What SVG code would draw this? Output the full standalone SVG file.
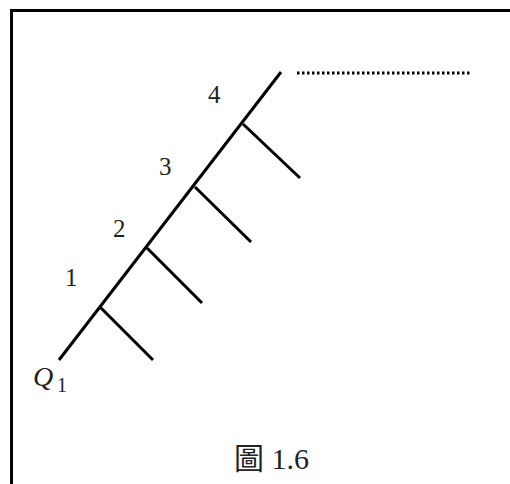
<svg xmlns="http://www.w3.org/2000/svg" width="510" height="484" viewBox="0 0 510 484">
<style>
.ln{stroke:#000;stroke-width:3;fill:none;stroke-linecap:butt}
.t{font-family:"Liberation Serif","Noto Sans CJK TC",serif;fill:#222}
</style>
<rect x="0" y="0" width="510" height="484" fill="#fff"/>
<g id="frame"><path d="M11.5,520 V10.5 H520" class="ln"/></g>
<g id="connectors">
<line class="ln" x1="59" y1="360" x2="281" y2="72"/>
<line class="ln" x1="100" y1="307" x2="153" y2="360"/>
<line class="ln" x1="147" y1="248" x2="202" y2="303"/>
<line class="ln" x1="195" y1="187" x2="251" y2="242"/>
<line class="ln" x1="243" y1="124" x2="300" y2="178"/>
<line x1="297" y1="73" x2="472" y2="73" stroke="#000" stroke-width="3" stroke-dasharray="2.5 2.5"/>
</g>
<g id="labels">
<text class="t" x="65" y="286" font-size="25">1</text>
<text class="t" x="113" y="237" font-size="25">2</text>
<text class="t" x="159" y="175" font-size="25">3</text>
<text class="t" x="208" y="103" font-size="25">4</text>
<text class="t" x="33" y="386" font-size="28" font-style="italic">Q</text>
<text class="t" x="57" y="392" font-size="20">1</text>
<text class="t" x="234" y="469" font-size="30">圖 1.6</text>
</g>
</svg>
